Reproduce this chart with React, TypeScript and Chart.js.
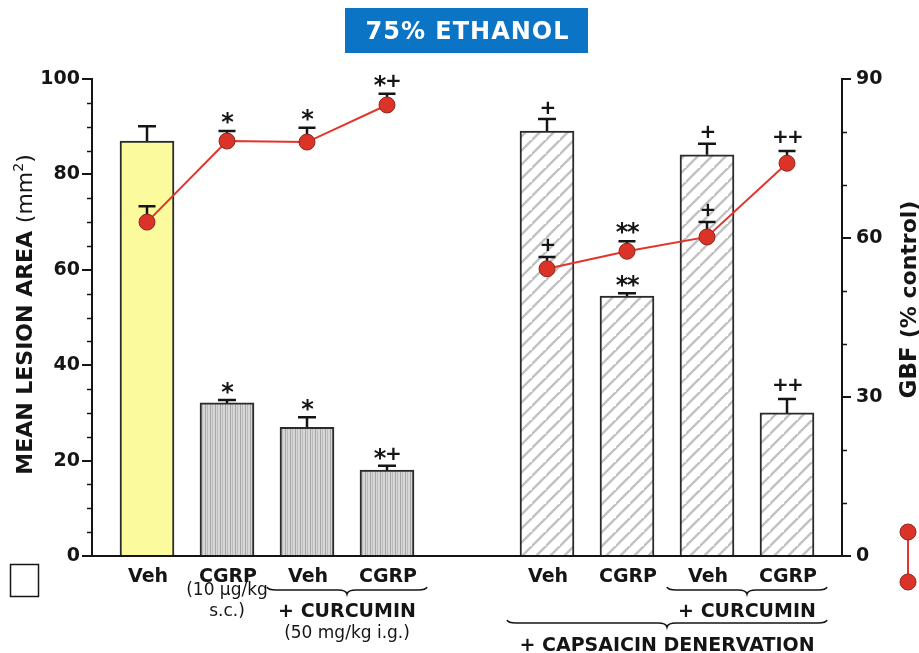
import React, { useEffect, useRef } from "react";
import { Chart, registerables } from "chart.js";

Chart.register(...registerables);

// ---------- data ----------
const chartTitle = "75% ETHANOL";
const categories = ["Veh", "CGRP", "Veh", "CGRP", "", "Veh", "CGRP", "Veh", "CGRP"];
const doseLine1 = ["", "(10 µg/kg", "", "", "", "", "", "", ""];
const doseLine2 = ["", "s.c.)", "", "", "", "", "", "", ""];
const lesionArea = [87.0, 32.1, 27.0, 18.0, null, 89.1, 54.5, 84.1, 30.0];
const lesionSem = [3.1, 0.6, 2.1, 0.9, null, 2.5, 0.6, 2.3, 2.9];
const lesionSig = ["", "*", "*", "*+", "", "+", "**", "+", "++"];
const gbf = [63.0, 78.3, 78.1, 85.1, null, 54.2, 57.5, 60.2, 74.1];
const gbfSem = [3.0, 1.9, 2.7, 2.1, null, 2.2, 1.9, 2.8, 2.3];
const gbfSig = ["", "*", "*", "*+", "", "+", "**", "+", "++"];
const barStyle = ["plain", "vertical", "vertical", "vertical", "", "hatch", "hatch", "hatch", "hatch"];
const groupLabels = ["+ CURCUMIN", "+ CURCUMIN", "+ CAPSAICIN DENERVATION"];
const groupNotes = ["(50 mg/kg i.g.)", "", ""];
const groupFirst = [2, 7, 5];
const groupLast = [3, 8, 8];
const groupTier = [0, 0, 1];
const leftTitleMain = "MEAN LESION AREA";
const leftTitleUnit = ["(mm", "2", ")"];
const rightTitleMain = "GBF";
const rightTitleUnit = "(% control)";
const leftMax = 100;
const leftStep = 20;
const leftMinorStep = 5;
const rightMax = 90;
const rightStep = 30;
const rightMinorStep = 10;

const INK = "#151515";
const RED = "#e3332a";

function makeVertical(ctx: CanvasRenderingContext2D) {
  const c = document.createElement("canvas");
  c.width = 5; c.height = 5;
  const g = c.getContext("2d")!;
  g.fillStyle = "#d7d7d7"; g.fillRect(0, 0, 5, 5);
  g.fillStyle = "#a6a6a6"; g.fillRect(0, 0, 1, 5);
  g.fillStyle = "#bcbcbc"; g.fillRect(2, 0, 1, 5);
  return ctx.createPattern(c, "repeat");
}
function makeHatch(ctx: CanvasRenderingContext2D) {
  const s = 14;
  const c = document.createElement("canvas");
  c.width = s; c.height = s;
  const g = c.getContext("2d")!;
  g.fillStyle = "#ffffff"; g.fillRect(0, 0, s, s);
  g.strokeStyle = "#c2c2c2"; g.lineWidth = 2.4;
  g.beginPath();
  g.moveTo(-2, s + 2); g.lineTo(s + 2, -2);
  g.moveTo(-2 - s, s + 2); g.lineTo(2, -2);
  g.moveTo(s - 2, 2 * s + 2); g.lineTo(2 * s + 2, s - 2);
  g.stroke();
  return ctx.createPattern(c, "repeat");
}

function drawSig(ctx: CanvasRenderingContext2D, text: string, cx: number, centerY: number) {
  const chars = [...text];
  const fonts = chars.map((ch) => (ch === "*" ? 'bold 24px "DejaVu Sans"' : 'bold 20px "DejaVu Sans"'));
  const widths = chars.map((ch, i) => { ctx.font = fonts[i]; return ctx.measureText(ch).width * 0.9; });
  const total = widths.reduce((a, b) => a + b, 0);
  let x = cx - total / 2;
  ctx.textAlign = "left";
  ctx.textBaseline = "alphabetic";
  ctx.fillStyle = INK;
  chars.forEach((ch, i) => {
    ctx.font = fonts[i];
    const m = ctx.measureText(ch);
    const off = (m.actualBoundingBoxAscent - m.actualBoundingBoxDescent) / 2;
    ctx.fillText(ch, x, centerY + off);
    x += widths[i];
  });
}

function errBar(ctx: CanvasRenderingContext2D, x: number, yVal: number, yTop: number, capW: number) {
  ctx.beginPath();
  ctx.moveTo(x, yVal);
  ctx.lineTo(x, yTop);
  ctx.moveTo(x - capW / 2, yTop);
  ctx.lineTo(x + capW / 2, yTop);
  ctx.stroke();
}

function brace(ctx: CanvasRenderingContext2D, x0: number, x1: number, yTop: number, yTip: number) {
  const xc = (x0 + x1) / 2;
  const yMid = (yTop + yTip) / 2 - 0.5;
  const r = 9;
  ctx.beginPath();
  ctx.moveTo(x0, yTop);
  ctx.quadraticCurveTo(x0 + 1, yMid, x0 + r, yMid);
  ctx.lineTo(xc - r, yMid);
  ctx.quadraticCurveTo(xc - 1, yMid, xc, yTip);
  ctx.quadraticCurveTo(xc + 1, yMid, xc + r, yMid);
  ctx.lineTo(x1 - r, yMid);
  ctx.quadraticCurveTo(x1 - 1, yMid, x1, yTop);
  ctx.stroke();
}

const decorPlugin = {
  id: "decor",
  beforeDatasetDraw(chart: any, args: any) {
    if (args.meta.type !== "line") return;
    const { ctx } = chart;
    const x = chart.scales.x, y = chart.scales.y, y1 = chart.scales.y1;
    ctx.save();
    ctx.strokeStyle = INK;
    ctx.lineWidth = 2.5;
    lesionArea.forEach((v, i) => {
      if (v == null) return;
      errBar(ctx, x.getPixelForValue(i), y.getPixelForValue(v), y.getPixelForValue(v + (lesionSem[i] as number)), 18);
    });
    gbf.forEach((v, i) => {
      if (v == null) return;
      errBar(ctx, x.getPixelForValue(i), y1.getPixelForValue(v), y1.getPixelForValue(v + (gbfSem[i] as number)), 17);
    });
    ctx.restore();
  },
  afterDraw(chart: any) {
    const { ctx, chartArea } = chart;
    const x = chart.scales.x, y = chart.scales.y, y1 = chart.scales.y1;
    ctx.save();

    // minor ticks
    ctx.strokeStyle = INK;
    ctx.lineWidth = 1.5;
    ctx.beginPath();
    for (let v = leftMinorStep; v < leftMax; v += leftMinorStep) {
      if (v % leftStep === 0) continue;
      const py = Math.round(y.getPixelForValue(v)) + 0.5;
      ctx.moveTo(chartArea.left - 5, py); ctx.lineTo(chartArea.left, py);
    }
    for (let v = rightMinorStep; v < rightMax; v += rightMinorStep) {
      if (v % rightStep === 0) continue;
      const py = Math.round(y1.getPixelForValue(v)) + 0.5;
      ctx.moveTo(chartArea.right, py); ctx.lineTo(chartArea.right + 5, py);
    }
    ctx.stroke();

    // significance marks
    lesionArea.forEach((v, i) => {
      if (v == null || !lesionSig[i]) return;
      const top = y.getPixelForValue(v + (lesionSem[i] as number));
      drawSig(ctx, lesionSig[i], x.getPixelForValue(i), top - (lesionSig[i] === "++" ? 15 : 12));
    });
    gbf.forEach((v, i) => {
      if (v == null || !gbfSig[i]) return;
      const top = y1.getPixelForValue(v + (gbfSem[i] as number));
      drawSig(ctx, gbfSig[i], x.getPixelForValue(i), top - (gbfSig[i] === "++" ? 15 : 13));
    });

    // category labels
    const base = chartArea.bottom;
    ctx.fillStyle = INK;
    ctx.textAlign = "center";
    ctx.textBaseline = "alphabetic";
    categories.forEach((c, i) => {
      if (!c) return;
      const px = x.getPixelForValue(i);
      ctx.font = 'bold 19px "DejaVu Sans"';
      ctx.fillText(c, px + 1, base + 26);
      ctx.font = '17px "DejaVu Sans"';
      if (doseLine1[i]) ctx.fillText(doseLine1[i], px, base + 39);
      if (doseLine2[i]) ctx.fillText(doseLine2[i], px, base + 60);
    });

    // group braces and labels
    ctx.strokeStyle = INK;
    ctx.lineWidth = 1.6;
    groupLabels.forEach((lab, g) => {
      const x0 = x.getPixelForValue(groupFirst[g] - 0.5);
      const x1 = x.getPixelForValue(groupLast[g] + 0.5);
      const xc = (x0 + x1) / 2;
      const tierOff = groupTier[g] * 33;
      brace(ctx, x0, x1, base + 31 + tierOff, base + 38 + tierOff);
      ctx.font = 'bold 19px "DejaVu Sans"';
      ctx.fillText(lab, xc, base + 61 + tierOff + groupTier[g]);
      if (groupNotes[g]) {
        ctx.font = '17px "DejaVu Sans"';
        ctx.fillText(groupNotes[g], xc, base + 82 + tierOff);
      }
    });

    // left axis title
    ctx.save();
    ctx.translate(32, (chartArea.top + chartArea.bottom) / 2 - 3);
    ctx.rotate(-Math.PI / 2);
    ctx.textAlign = "left";
    ctx.font = 'bold 22px "DejaVu Sans"';
    const mainW = ctx.measureText(leftTitleMain + " ").width;
    ctx.font = '22px "DejaVu Sans"';
    const u0 = ctx.measureText(leftTitleUnit[0]).width;
    const u2 = ctx.measureText(leftTitleUnit[2]).width;
    ctx.font = '14px "DejaVu Sans"';
    const u1 = ctx.measureText(leftTitleUnit[1]).width;
    let tx = -(mainW + u0 + u1 + u2) / 2;
    ctx.font = 'bold 22px "DejaVu Sans"';
    ctx.fillText(leftTitleMain + " ", tx, 0); tx += mainW;
    ctx.font = '22px "DejaVu Sans"';
    ctx.fillText(leftTitleUnit[0], tx, 0); tx += u0;
    ctx.font = '14px "DejaVu Sans"';
    ctx.fillText(leftTitleUnit[1], tx, -9); tx += u1;
    ctx.font = '22px "DejaVu Sans"';
    ctx.fillText(leftTitleUnit[2], tx, 0);
    ctx.restore();

    // right axis title
    ctx.save();
    ctx.translate(916, (chartArea.top + chartArea.bottom) / 2 - 18);
    ctx.rotate(-Math.PI / 2);
    ctx.textAlign = "left";
    ctx.font = 'bold 23px "DejaVu Sans"';
    const rw0 = ctx.measureText(rightTitleMain + " ").width;
    ctx.font = 'bold 22px "DejaVu Sans"';
    const rw1 = ctx.measureText(rightTitleUnit).width;
    let rx = -(rw0 + rw1) / 2;
    ctx.font = 'bold 23px "DejaVu Sans"';
    ctx.fillText(rightTitleMain + " ", rx, 0); rx += rw0;
    ctx.font = 'bold 22px "DejaVu Sans"';
    ctx.fillText(rightTitleUnit, rx, 0);
    ctx.restore();

    // title box
    const tcx = (chartArea.left + chartArea.right) / 2 - 0.5;
    ctx.fillStyle = "#0b74c4";
    ctx.fillRect(tcx - 121.5, 8, 243, 45);
    ctx.fillStyle = "#ffffff";
    ctx.font = 'bold 24px "DejaVu Sans"';
    (ctx as any).letterSpacing = "1px";
    ctx.textAlign = "center";
    ctx.fillText(chartTitle, tcx + 1, 39);
    (ctx as any).letterSpacing = "0px";

    // legend keys
    ctx.strokeStyle = INK;
    ctx.lineWidth = 1.5;
    ctx.fillStyle = "#ffffff";
    ctx.fillRect(10.5, 564.5, 28, 32);
    ctx.strokeRect(10.5, 564.5, 28, 32);
    ctx.strokeStyle = RED;
    ctx.lineWidth = 2;
    ctx.beginPath(); ctx.moveTo(908, 532); ctx.lineTo(908, 582); ctx.stroke();
    [532, 582].forEach((cy) => {
      ctx.beginPath(); ctx.arc(908, cy, 8, 0, Math.PI * 2);
      ctx.fillStyle = "#dc3328"; ctx.fill();
      ctx.strokeStyle = "#8a2a20"; ctx.lineWidth = 1; ctx.stroke();
    });

    ctx.restore();
  },
};

export default function App() {
  const ref = useRef<HTMLCanvasElement | null>(null);
  useEffect(() => {
    const canvas = ref.current!;
    const ctx = canvas.getContext("2d")!;
    const vert = makeVertical(ctx);
    const hatch = makeHatch(ctx);
    const fills = barStyle.map((s) => (s === "plain" ? "#fbfa9c" : s === "vertical" ? vert : s === "hatch" ? hatch : "transparent"));
    const tickFont = { family: "DejaVu Sans", weight: "bold" as const, size: 19 };
    const chart = new Chart(canvas, {
      data: {
        datasets: [
          {
            type: "bar",
            data: lesionArea.map((v, i) => ({ x: i, y: v })) as any,
            backgroundColor: fills as any,
            borderColor: "#2a2a2a",
            borderWidth: 2,
            barThickness: 54,
            xAxisID: "x",
            yAxisID: "y",
            order: 2,
          },
          {
            type: "line",
            data: gbf.map((v, i) => ({ x: i, y: v })) as any,
            xAxisID: "x",
            yAxisID: "y1",
            borderColor: RED,
            borderWidth: 2,
            pointRadius: 8,
            pointBackgroundColor: "#dc3328",
            pointBorderColor: "#8a2a20",
            pointBorderWidth: 1,
            spanGaps: false,
            order: 1,
          },
        ],
      } as any,
      options: {
        responsive: false,
        animation: false,
        devicePixelRatio: 1,
        layout: { padding: { top: 79, left: 0, right: 0, bottom: 0 } },
        plugins: { legend: { display: false }, tooltip: { enabled: false } },
        scales: {
          x: {
            type: "linear",
            offset: false,
            min: -0.6875,
            max: 8.6875,
            ticks: { display: false },
            grid: { display: false, offset: false },
            border: { display: true, color: INK, width: 2 },
            afterFit: (s: any) => { s.height = 97; },
          },
          y: {
            type: "linear",
            position: "left",
            min: 0,
            max: leftMax,
            ticks: { stepSize: leftStep, color: INK, font: tickFont, padding: 2 },
            grid: { drawOnChartArea: false, tickLength: 10, color: INK, lineWidth: 2 },
            border: { color: INK, width: 2 },
            afterFit: (s: any) => { s.width = 92; },
          },
          y1: {
            type: "linear",
            position: "right",
            min: 0,
            max: rightMax,
            ticks: { stepSize: rightStep, color: INK, font: tickFont, padding: 5 },
            grid: { drawOnChartArea: false, tickLength: 9, color: INK, lineWidth: 2 },
            border: { color: INK, width: 2 },
            afterFit: (s: any) => { s.width = 77; },
          },
        },
      } as any,
      plugins: [decorPlugin],
    });
    return () => chart.destroy();
  }, []);
  return (
    <div style={{ position: "fixed", left: 0, top: 0, width: 919, height: 653, background: "#fff" }}>
      <canvas ref={ref} width={919} height={653} style={{ display: "block" }} />
    </div>
  );
}
